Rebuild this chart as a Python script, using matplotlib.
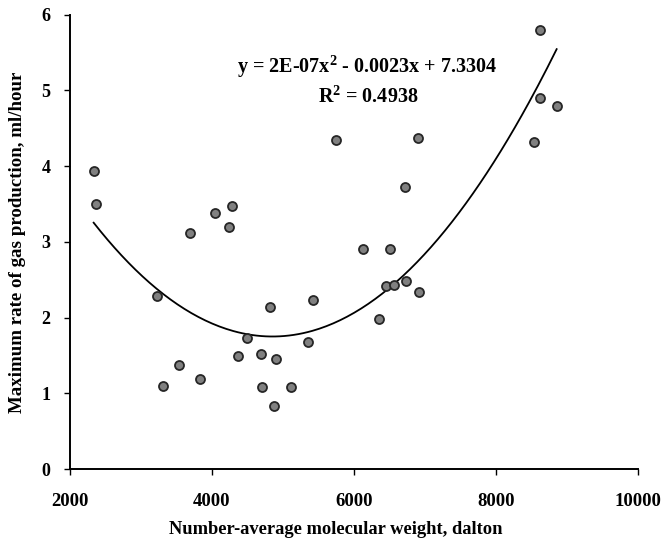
import matplotlib.pyplot as plt
import numpy as np

plt.rcParams['font.family'] = ['Liberation Serif', 'DejaVu Serif']
plt.rcParams['font.weight'] = 'bold'
plt.rcParams['mathtext.fontset'] = 'custom'
plt.rcParams['mathtext.rm'] = 'Liberation Serif'
plt.rcParams['mathtext.bf'] = 'Liberation Serif:bold'

# number-average molecular weight (dalton) and max gas rate (ml/hour)
mw = [2334, 2362, 3230, 3305, 3531, 3695, 3826, 4038, 4235, 4286,
      4361, 4498, 4685, 4709, 4817, 4873, 4906, 5113, 5357, 5418,
      5746, 6122, 6357, 6451, 6512, 6568, 6718, 6732, 6897, 6915,
      8540, 8620, 8620, 8854]
rate = [3.94, 3.50, 2.28, 1.10, 1.38, 3.12, 1.19, 3.38, 3.20, 3.47,
        1.49, 1.73, 1.52, 1.08, 2.14, 0.83, 1.45, 1.08, 1.68, 2.23,
        4.34, 2.90, 1.98, 2.42, 2.90, 2.43, 3.72, 2.48, 4.37, 2.34,
        4.32, 5.80, 4.90, 4.80]

# trend line coefficients (label rounds the x^2 term to 2E-07)
trend = [2.37e-7, -0.0023, 7.3304]

x = np.array(mw)
y = np.array(rate)
xs = np.linspace(x.min(), x.max(), 200)
ys = np.polyval(trend, xs)

fig = plt.figure(figsize=(6.66, 5.46), dpi=100)
ax = fig.add_axes([0.105, 0.141, 0.853, 0.832])

ax.plot(xs, ys, color='black', linewidth=1.3)
ax.scatter(x, y, s=42, color='#808080', edgecolors='#262626', linewidths=1.3, zorder=3)

ax.text(6183, 5.32, 'y = 2E-07x$^{\\mathbf{2}}$ - 0.0023x + 7.3304', ha='center', va='center',
        fontsize=14.5, fontweight='bold')
ax.text(6200, 4.92, 'R$^{\\mathbf{2}}$ = 0.4938', ha='center', va='center',
        fontsize=14.5, fontweight='bold')

ax.set_xlim(2000, 10000)
ax.set_ylim(0, 6)
ax.set_xticks([2000, 4000, 6000, 8000, 10000])
ax.set_yticks([0, 1, 2, 3, 4, 5, 6])
ax.tick_params(direction='out', length=4, width=1)
ax.tick_params(axis='x', labelsize=13.5, pad=13)
ax.tick_params(axis='y', labelsize=13, pad=10)
for lab in ax.get_xticklabels() + ax.get_yticklabels():
    lab.set_fontweight('bold')

ax.spines['top'].set_visible(False)
ax.spines['right'].set_visible(False)
ax.spines['left'].set_linewidth(1.4)
ax.spines['bottom'].set_linewidth(1.4)

ax.set_xlabel('Number-average molecular weight, dalton', fontsize=13.3, fontweight='bold')
ax.xaxis.set_label_coords(0.468, -0.115)
ax.set_ylabel('Maximum rate of gas production, ml/hour', fontsize=13.6, fontweight='bold')
ax.yaxis.set_label_coords(-0.078, 0.5)

fig.savefig('out.png', dpi=100)
